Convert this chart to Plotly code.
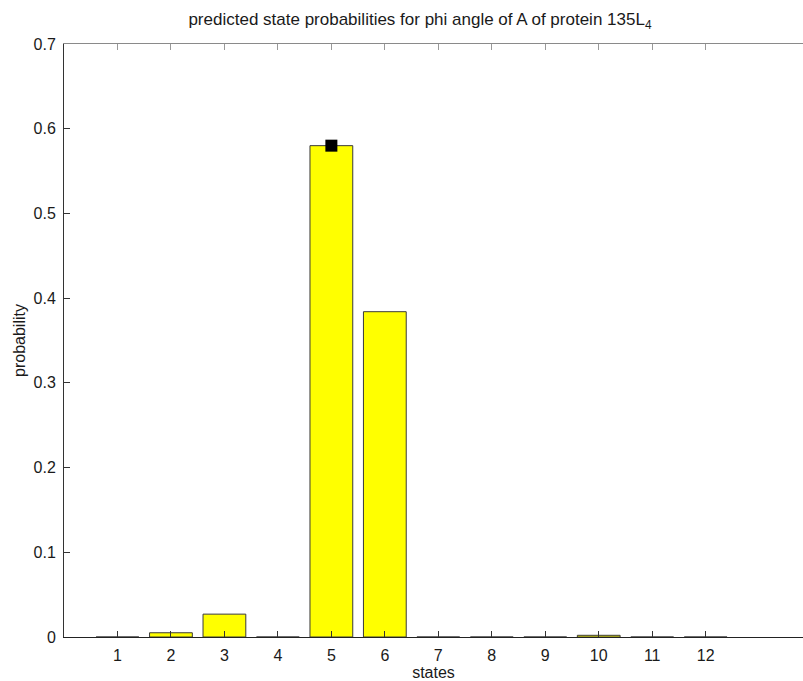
import plotly.graph_objects as go

# predicted probability of each discrete phi-angle state
states = list(range(1, 13))
probabilities = [0.0, 0.005, 0.027, 0.0, 0.580, 0.384, 0.0, 0.0, 0.0, 0.002, 0.0, 0.0]

# observed (true) state, marked on top of its bar
true_state = [5]
true_prob = [0.580]

tick_labels = [str(s) for s in states]
y_ticks = [0, 0.1, 0.2, 0.3, 0.4, 0.5, 0.6, 0.7]
y_tick_labels = ["0", "0.1", "0.2", "0.3", "0.4", "0.5", "0.6", "0.7"]

font_family = "Liberation Sans, Arial, sans-serif"
text_color = "#1a1a1a"

fig = go.Figure()
fig.add_trace(go.Bar(
    x=states, y=probabilities, width=0.8,
    marker=dict(color="#FFFF00", line=dict(color="#3a3a3a", width=1)),
    showlegend=False, hoverinfo="x+y",
))
fig.add_trace(go.Scatter(
    x=true_state, y=true_prob, mode="markers",
    marker=dict(symbol="square", size=12, color="black"),
    showlegend=False,
))
# invisible trace to carry the top axis
fig.add_trace(go.Scatter(x=[states[0]], y=[0], xaxis="x2", mode="markers",
                         marker=dict(opacity=0), showlegend=False, hoverinfo="skip"))

fig.update_layout(
    width=803, height=681,
    margin=dict(l=64, r=0, t=44, b=44),
    paper_bgcolor="white", plot_bgcolor="white",
    font=dict(family=font_family, size=16, color=text_color),
    title=dict(
        text="predicted state probabilities for phi angle of A of protein 135L<sub>4</sub>",
        x=0.523, xanchor="center", y=0.972, yanchor="middle",
        font=dict(size=17, color=text_color),
    ),
    xaxis=dict(
        range=[0, 13.82], tickvals=states, ticktext=tick_labels,
        ticks="inside", ticklen=6, tickcolor="#333",
        showline=True, linecolor="#222", linewidth=1,
        showgrid=False, zeroline=False,
        ticklabelstandoff=4,
        title=dict(text="states", standoff=1, font=dict(size=16)),
        tickfont=dict(size=16),
    ),
    xaxis2=dict(
        overlaying="x", side="top", matches="x", range=[0, 13.82],
        tickvals=states, showticklabels=False,
        ticks="inside", ticklen=6, tickcolor="#999",
        showline=True, linecolor="#8a8a8a", linewidth=1,
        showgrid=False, zeroline=False,
    ),
    yaxis=dict(
        range=[0, 0.7], tickvals=y_ticks, ticktext=y_tick_labels,
        ticks="inside", ticklen=6, tickcolor="#333",
        showline=True, linecolor="#333", linewidth=1,
        showgrid=False, zeroline=False,
        ticklabelstandoff=4,
        title=dict(text="probability", standoff=3, font=dict(size=16)),
        tickfont=dict(size=16),
    ),
    bargap=0.2,
)

fig.write_html("out.html")
